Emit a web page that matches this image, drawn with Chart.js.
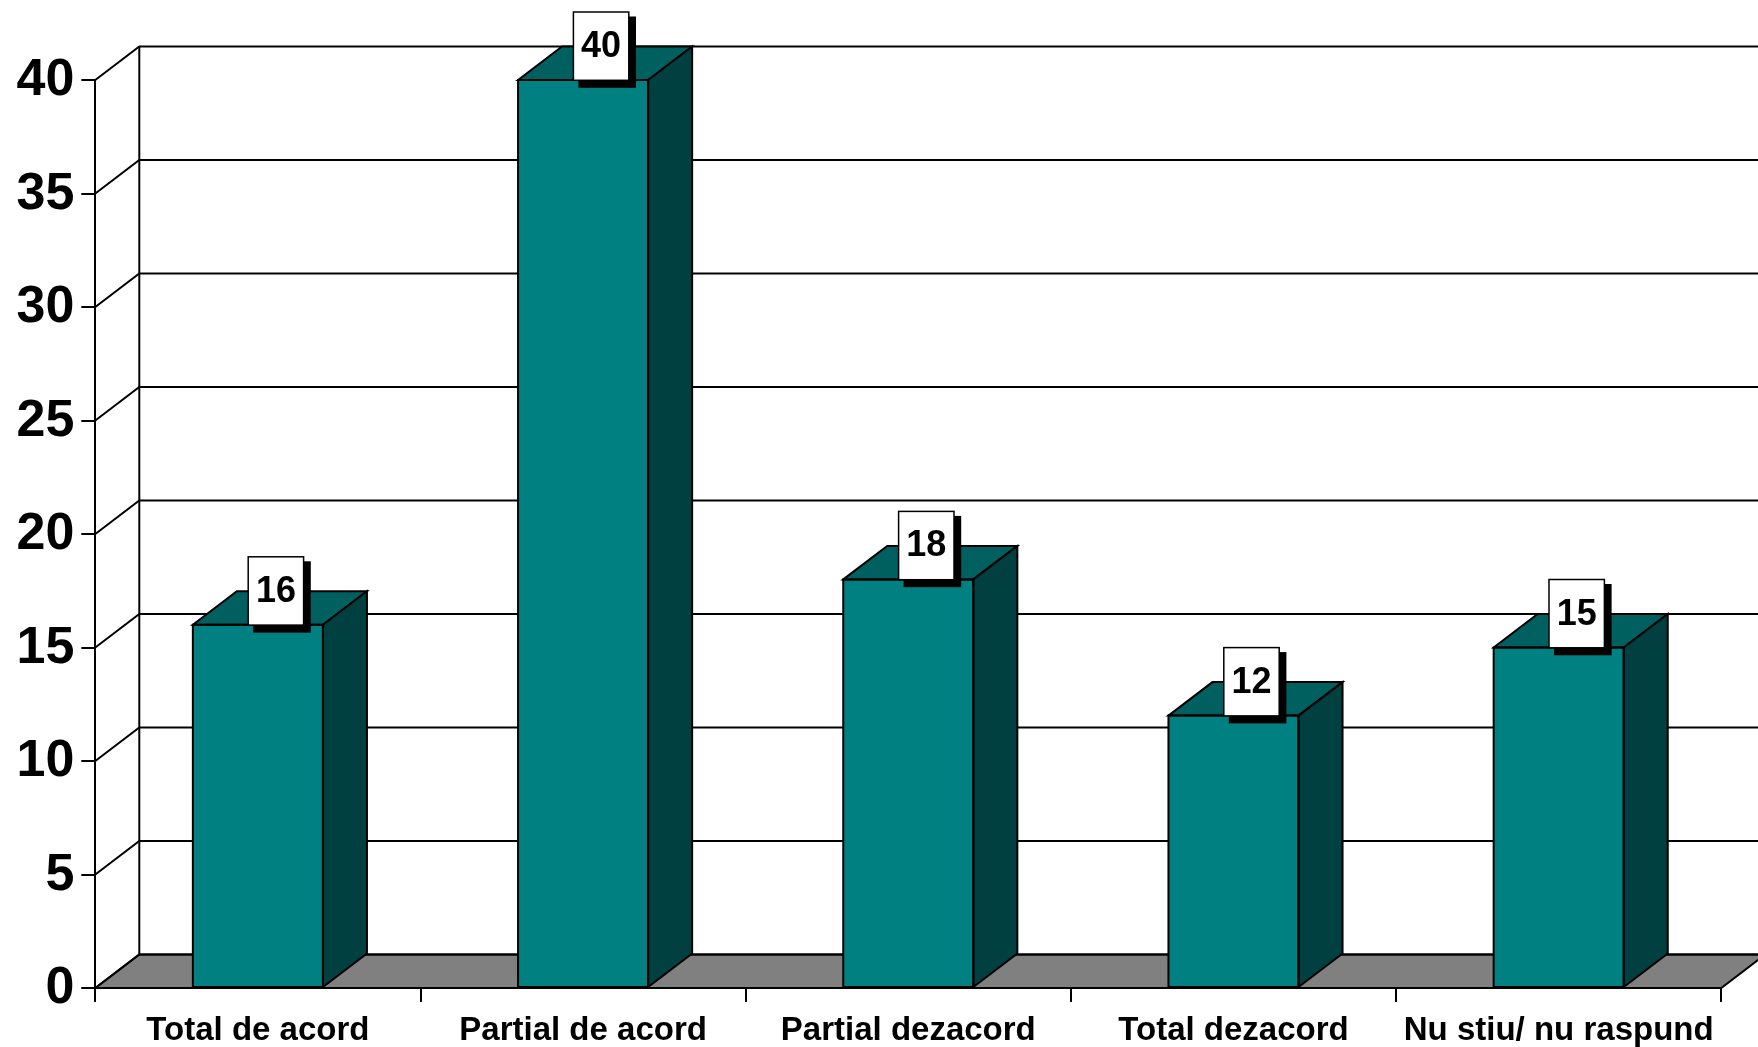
<!DOCTYPE html>
<html><head><meta charset="utf-8">
<script src="https://cdn.jsdelivr.net/npm/chart.js@4"></script>
<style>html,body{margin:0;padding:0;background:#fff;overflow:hidden}canvas{display:block}</style>
</head><body><canvas id="c" width="1758" height="1047"></canvas>
<script>
const categories = ["Total de acord","Partial de acord","Partial dezacord","Total dezacord","Nu stiu/ nu raspund"];
const values = [16,40,18,12,15];
const gridValues = [0,5,10,15,20,25,30,35,40];

const DX = 44, DY = 33.5, LW = 2;
const FRONT='#008080', TOP='#006060', SIDE='#004040', FLOOR='#808080';

function poly(ctx, pts, fill){
  ctx.beginPath();
  pts.forEach((p,i)=> i?ctx.lineTo(p[0],p[1]):ctx.moveTo(p[0],p[1]));
  ctx.closePath();
  if(fill){ctx.fillStyle=fill;ctx.fill();}
  ctx.strokeStyle='#000';ctx.lineWidth=LW;ctx.lineJoin='miter';ctx.stroke();
}

const box3d = {
  id:'box3d',
  beforeDraw(chart){
    const ctx=chart.ctx, a=chart.chartArea, y=chart.scales.y;
    ctx.save();
    ctx.fillStyle='#fff';ctx.fillRect(0,0,chart.width,chart.height);
    const y0=y.getPixelForValue(0);
    poly(ctx,[[a.left,y0],[a.left+DX,y0-DY],[a.right+DX,y0-DY],[a.right,y0]],FLOOR);
    ctx.strokeStyle='#000';ctx.lineWidth=LW;
    gridValues.forEach(v=>{
      const p=y.getPixelForValue(v);
      ctx.beginPath();
      ctx.moveTo(a.left,p);ctx.lineTo(a.left+DX,p-DY);ctx.lineTo(a.right+DX,p-DY);
      ctx.stroke();
    });
    ctx.beginPath();
    ctx.moveTo(a.left+DX,y0-DY);ctx.lineTo(a.left+DX,y.getPixelForValue(40)-DY);
    ctx.stroke();
    ctx.restore();
  },
  afterDatasetsDraw(chart){
    const ctx=chart.ctx, meta=chart.getDatasetMeta(0);
    ctx.save();
    meta.data.forEach(b=>{
      const h=b.width/2, l=b.x-h, r=b.x+h, t=b.y, bt=b.base;
      poly(ctx,[[l,t],[l+DX,t-DY],[r+DX,t-DY],[r,t]],TOP);
      poly(ctx,[[r,t],[r+DX,t-DY],[r+DX,bt-DY],[r,bt]],SIDE);
      poly(ctx,[[l,t],[r,t],[r,bt],[l,bt]],null);
    });
    meta.data.forEach((b,i)=>{
      const w=55.4,hh=68.3,bx=b.x+18-w/2,by=b.y+0.3-hh;
      ctx.fillStyle='#000';
      ctx.fillRect(bx+5,by+4.5,w+2.2,hh+3);
      ctx.fillStyle='#fff';ctx.strokeStyle='#000';ctx.lineWidth=1.5;
      ctx.fillRect(bx,by,w,hh);ctx.strokeRect(bx,by,w,hh);
      ctx.fillStyle='#000';ctx.font='bold 36px "Liberation Sans"';
      ctx.textAlign='center';ctx.textBaseline='middle';
      ctx.fillText(String(values[i]),bx+w/2,by+hh/2+1);
    });
    ctx.restore();
  }
};

new Chart(document.getElementById('c'),{
  type:'bar',
  data:{labels:categories,datasets:[{data:values,backgroundColor:FRONT,borderWidth:0,barPercentage:0.4,categoryPercentage:1}]},
  plugins:[box3d],
  options:{
    responsive:false,animation:false,
    layout:{padding:{left:0,top:80,right:36.7,bottom:0}},
    plugins:{legend:{display:false},tooltip:{enabled:false}},
    scales:{
      x:{
        afterFit(s){s.height=59;},
        grid:{drawOnChartArea:false,color:'#000',lineWidth:2,tickLength:14,offset:true},
        border:{display:true,color:'#000',width:2},
        ticks:{color:'#000',maxRotation:0,autoSkip:false,padding:9,font:{family:'"Liberation Sans"',weight:'bold',size:33}}
      },
      y:{
        min:0,max:40,
        afterFit(s){s.width=95.3;},
        grid:{drawOnChartArea:false,color:'#000',lineWidth:2,tickLength:14},
        border:{display:true,color:'#000',width:2},
        ticks:{color:'#000',stepSize:5,padding:7,labelOffset:0.7,font:{family:'"Liberation Sans"',weight:'bold',size:52}}
      }
    }
  }
});
</script></body></html>
